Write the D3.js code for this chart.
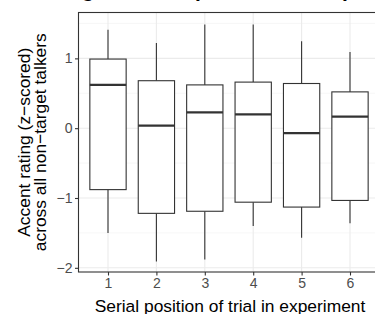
<!DOCTYPE html>
<html>
<head>
<meta charset="utf-8">
<script src="https://cdn.jsdelivr.net/npm/d3@7"></script>
<style>
  body { margin: 0; background: #fff; }
  svg text { font-family: "Liberation Sans", Arial, Helvetica, sans-serif; }
</style>
</head>
<body>
<div id="chart"></div>
<script>
// serial position of trial (categories)
const positions = ["1", "2", "3", "4", "5", "6"];
// box stats (z-scored accent rating)
const whiskerLow  = [-1.50, -1.91, -1.88, -1.40, -1.57, -1.36];
const q1          = [-0.88, -1.22, -1.19, -1.06, -1.13, -1.035];
const medians     = [0.62, 0.036, 0.227, 0.198, -0.07, 0.165];
const q3          = [0.99, 0.68, 0.62, 0.66, 0.64, 0.52];
const whiskerHigh = [1.41, 1.22, 1.485, 1.485, 1.245, 1.09];

const yTicks = [-2, -1, 0, 1];
const yMinor = [-1.5, -0.5, 0.5, 1.5];

const W = 375, H = 314;
const panel = {left: 78.5, top: 12.5, right: 380, bottom: 272};

const svg = d3.select("#chart").append("svg")
  .attr("width", W).attr("height", H);

const x = d3.scalePoint().domain(positions).range([108, 350]);
const y = d3.scaleLinear().domain([-2.06, 1.657]).range([panel.bottom, panel.top]);

const data = positions.map((p, i) => ({
  pos: p, lo: whiskerLow[i], q1: q1[i], med: medians[i], q3: q3[i], hi: whiskerHigh[i]
}));

// title, mostly cut off by the top edge (as in the original crop)
svg.append("text")
  .attr("x", 230).attr("y", -2.6)
  .attr("text-anchor", "middle")
  .style("font-size", "21px").style("font-weight", "bold")
  .text("Rating over trial positions in experiment");

// grid
const grid = svg.append("g");
grid.selectAll(".minor").data(yMinor).join("line")
  .attr("x1", panel.left).attr("x2", panel.right)
  .attr("y1", d => y(d)).attr("y2", d => y(d))
  .attr("stroke", "#f2f2f2").attr("stroke-width", 0.6);
grid.selectAll(".hmajor").data(yTicks).join("line")
  .attr("x1", panel.left).attr("x2", panel.right)
  .attr("y1", d => y(d)).attr("y2", d => y(d))
  .attr("stroke", "#ebebeb").attr("stroke-width", 1.1);
grid.selectAll(".vmajor").data(positions).join("line")
  .attr("x1", d => x(d)).attr("x2", d => x(d))
  .attr("y1", panel.top).attr("y2", panel.bottom)
  .attr("stroke", "#ebebeb").attr("stroke-width", 1.1);

// boxes
const bw = x.step() * 0.75;
const box = svg.append("g").selectAll("g").data(data).join("g");

box.append("line")
  .attr("x1", d => x(d.pos)).attr("x2", d => x(d.pos))
  .attr("y1", d => y(d.hi)).attr("y2", d => y(d.q3))
  .attr("stroke", "#333").attr("stroke-width", 1.1);
box.append("line")
  .attr("x1", d => x(d.pos)).attr("x2", d => x(d.pos))
  .attr("y1", d => y(d.q1)).attr("y2", d => y(d.lo))
  .attr("stroke", "#333").attr("stroke-width", 1.1);
box.append("rect")
  .attr("x", d => x(d.pos) - bw / 2).attr("width", bw)
  .attr("y", d => y(d.q3)).attr("height", d => y(d.q1) - y(d.q3))
  .attr("fill", "#fff").attr("stroke", "#333").attr("stroke-width", 1.1);
box.append("line")
  .attr("x1", d => x(d.pos) - bw / 2).attr("x2", d => x(d.pos) + bw / 2)
  .attr("y1", d => y(d.med)).attr("y2", d => y(d.med))
  .attr("stroke", "#333").attr("stroke-width", 2.2);

// border
svg.append("rect")
  .attr("x", panel.left).attr("y", panel.top)
  .attr("width", panel.right - panel.left).attr("height", panel.bottom - panel.top)
  .attr("fill", "none").attr("stroke", "#333").attr("stroke-width", 1.1);

// axes
const minus = v => String(v).replace("-", "\u2212");
const yAxis = svg.append("g")
  .attr("transform", `translate(${panel.left},0)`)
  .call(d3.axisLeft(y).tickValues(yTicks).tickFormat(minus).tickSize(3.5).tickPadding(2.5));
const xAxis = svg.append("g")
  .attr("transform", `translate(0,${panel.bottom})`)
  .call(d3.axisBottom(x).tickSize(3.5).tickPadding(2.5));

[yAxis, xAxis].forEach(a => {
  a.select(".domain").remove();
  a.selectAll(".tick line").attr("stroke", "#333").attr("stroke-width", 1.1);
  a.selectAll(".tick text").attr("fill", "#4d4d4d")
    .style("font-size", "14px").style("font-family", "Liberation Sans, Arial, sans-serif");
});

// axis titles
svg.append("text")
  .attr("x", 230).attr("y", 311.5)
  .attr("text-anchor", "middle")
  .style("font-size", "17.4px")
  .text("Serial position of trial in experiment");

const yt = svg.append("text")
  .attr("transform", `translate(30,${(panel.top + panel.bottom) / 2}) rotate(-90)`)
  .attr("text-anchor", "middle")
  .style("font-size", "17.4px");
yt.append("tspan").attr("x", 0).attr("y", 0).text("Accent rating (z\u2212scored)");
yt.append("tspan").attr("x", 0).attr("y", 16).text("across all non\u2212target talkers");
</script>
</body>
</html>
